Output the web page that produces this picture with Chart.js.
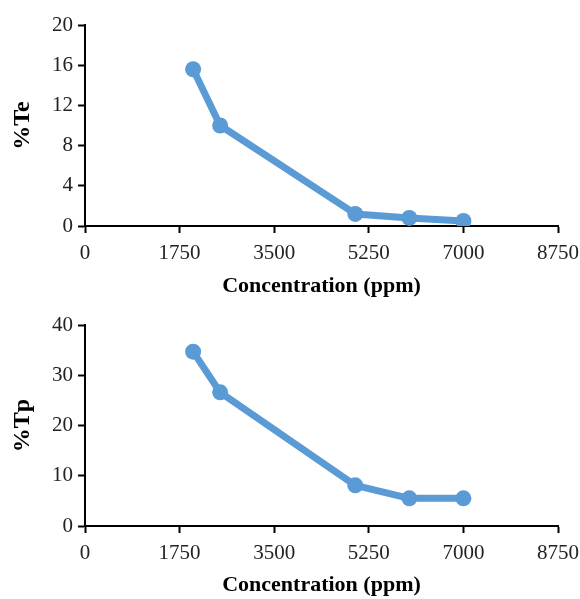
<!DOCTYPE html>
<html><head><meta charset="utf-8">
<script src="https://cdn.jsdelivr.net/npm/chart.js@4/dist/chart.umd.min.js"></script>
<style>
html,body{margin:0;padding:0;background:#fff;}
#w1{position:absolute;left:0;top:0;width:580px;height:300px;}
#w2{position:absolute;left:0;top:300px;width:580px;height:299px;}
</style></head><body>
<div id="w1"><canvas id="c1"></canvas></div>
<div id="w2"><canvas id="c2"></canvas></div>
<script>
const concentration = [2000, 2500, 5000, 6000, 7000];
const te = [15.6, 10.0, 1.2, 0.8, 0.5];
const tp = [34.7, 26.6, 8.1, 5.5, 5.5];
const xTicks = [0, 1750, 3500, 5250, 7000, 8750];
const teTicks = [0, 4, 8, 12, 16, 20];
const tpTicks = [0, 10, 20, 30, 40];

const FONT = "'Liberation Serif', 'Times New Roman', serif";
const BLUE = '#5B9BD5';

function makeChart(id, yVals, yTicks, yTitle, yMax, topPad, xH) {
  const data = concentration.map((x, i) => ({x: x, y: yVals[i]}));
  return new Chart(document.getElementById(id), {
    type: 'scatter',
    data: {datasets: [{
      data: data, showLine: true, borderColor: BLUE, backgroundColor: BLUE,
      borderWidth: 7, pointRadius: 8, pointHoverRadius: 8, pointBorderWidth: 0,
      borderJoinStyle: 'round'
    }]},
    options: {
      responsive: true, maintainAspectRatio: false, animation: false,
      layout: {padding: {left: 6, right: 0, top: topPad, bottom: 0}},
      plugins: {legend: {display: false}, tooltip: {enabled: false}},
      scales: {
        x: {
          type: 'linear', min: 0, max: 8750,
          afterBuildTicks: s => { s.ticks = xTicks.map(v => ({value: v})); },
          grid: {display: true, drawOnChartArea: false, drawTicks: true, tickLength: 7, tickColor: '#000', tickWidth: 2},
          border: {display: true, color: '#000', width: 2},
          ticks: {color: '#222', font: {family: FONT, size: 21}, padding: 8, maxRotation: 0,
                  callback: v => String(v)},
          title: {display: true, text: 'Concentration (ppm)', color: '#000', font: {family: FONT, size: 22, weight: 'bold'}, padding: {top: 6, bottom: 0}},
          afterFit: s => { s.height = xH; s.paddingRight = 22; s.paddingLeft = 0; }
        },
        y: {
          min: 0, max: yMax,
          afterBuildTicks: s => { s.ticks = yTicks.map(v => ({value: v})); },
          grid: {display: true, drawOnChartArea: false, drawTicks: true, tickLength: 7, tickColor: '#000', tickWidth: 2},
          border: {display: true, color: '#000', width: 2},
          ticks: {color: '#222', font: {family: FONT, size: 21}, padding: 5, callback: v => String(v)},
          title: {display: true, text: yTitle, color: '#000', font: {family: FONT, size: 24, weight: 'bold'}, padding: {top: 2, bottom: 4}},
          afterFit: s => { s.width = 79; }
        }
      }
    }
  });
}
makeChart('c1', te, teTicks, '%Te', 20, 25, 74);
makeChart('c2', tp, tpTicks, '%Tp', 40, 25, 73);
</script>
</body></html>
